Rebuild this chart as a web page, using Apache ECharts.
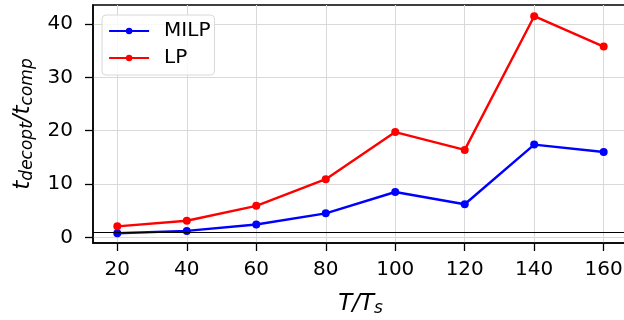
<!DOCTYPE html>
<html>
<head>
<meta charset="utf-8">
<script src="https://cdn.jsdelivr.net/npm/echarts@6/dist/echarts.min.js"></script>
<style>
  html, body { margin: 0; padding: 0; background: #fff; }
  #chart { width: 624px; height: 320px; }
</style>
</head>
<body>
<div id="chart"></div>
<script>
const ratios = [20, 40, 60, 80, 100, 120, 140, 160]
const milp = [0.75, 1.2, 2.4, 4.5, 8.5, 6.2, 17.4, 16.0]
const lp = [2.06, 3.1, 5.9, 10.9, 19.75, 16.4, 41.5, 35.8]
const yTicks = [0, 10, 20, 30, 40]
const refLevel = 1

const chart = echarts.init(document.getElementById('chart'), null, { renderer: 'canvas' })
const font = 'DejaVu Sans'

chart.setOption({
  animation: false,
  textStyle: { fontFamily: font },
  grid: {
    left: 93, top: 5, width: 535, height: 238,
    outerBoundsMode: 'none',
    show: true, borderColor: '#000', borderWidth: 1.5,
  },
  legend: {
    left: 102, top: 15,
    orient: 'vertical',
    itemWidth: 40, itemHeight: 8, itemGap: 7,
    padding: [6, 4, 7, 6],
    borderColor: '#d8d8d8', borderWidth: 1, borderRadius: 4,
    backgroundColor: 'rgba(255,255,255,0.8)',
    lineStyle: { width: 2.2 },
    textStyle: { fontSize: 20, color: '#000', fontFamily: font, padding: [0, 0, 0, 10] },
    data: ['MILP', 'LP'],
  },
  xAxis: {
    type: 'value', min: 13, max: 167,
    name: '{i|T/T}{s|s}',
    nameLocation: 'middle', nameGap: 48,
    nameTextStyle: {
      rich: {
        i: { fontSize: 23, fontStyle: 'italic', color: '#000', fontFamily: font },
        s: { fontSize: 17, fontStyle: 'italic', color: '#000', fontFamily: font, verticalAlign: 'bottom', padding: [9, 0, 0, 0] },
      },
    },
    axisLine: { onZero: false, lineStyle: { color: '#000', width: 1.5 } },
    axisTick: { customValues: ratios, length: 8, lineStyle: { color: '#000', width: 1.3 } },
    axisLabel: { customValues: ratios, fontSize: 20, color: '#000', margin: 17 },
    splitLine: { show: true, lineStyle: { color: '#d9d9d9', width: 1 } },
  },
  yAxis: {
    type: 'value', min: -1.07, max: 43.6,
    name: '{i|t}{s|decopt}{i|/t}{s|comp}',
    nameLocation: 'middle', nameGap: 57, nameRotate: 90,
    nameTextStyle: {
      rich: {
        i: { fontSize: 23, fontStyle: 'italic', color: '#000', fontFamily: font },
        s: { fontSize: 17, fontStyle: 'italic', color: '#000', fontFamily: font, verticalAlign: 'bottom', padding: [8, 0, 0, 0] },
      },
    },
    axisLine: { show: true, onZero: false, lineStyle: { color: '#000', width: 1.5 } },
    axisTick: { show: true, customValues: yTicks, length: 8, lineStyle: { color: '#000', width: 1.3 } },
    axisLabel: { customValues: yTicks, fontSize: 20, color: '#000', margin: 20 },
    splitLine: { show: true, lineStyle: { color: '#d9d9d9', width: 1 } },
  },
  series: [
    {
      name: 'MILP', type: 'line',
      data: ratios.map((r, i) => [r, milp[i]]),
      symbol: 'circle', symbolSize: 8,
      lineStyle: { color: '#0000ff', width: 2.4 },
      itemStyle: { color: '#0000ff' },
      markLine: {
        silent: true, symbol: 'none', label: { show: false },
        lineStyle: { color: '#000', width: 1, type: 'solid' },
        data: [{ yAxis: refLevel }],
      },
      z: 3,
    },
    {
      name: 'LP', type: 'line',
      data: ratios.map((r, i) => [r, lp[i]]),
      symbol: 'circle', symbolSize: 8,
      lineStyle: { color: '#ff0000', width: 2.4 },
      itemStyle: { color: '#ff0000' },
      z: 3,
    },
  ],
})
</script>
</body>
</html>
